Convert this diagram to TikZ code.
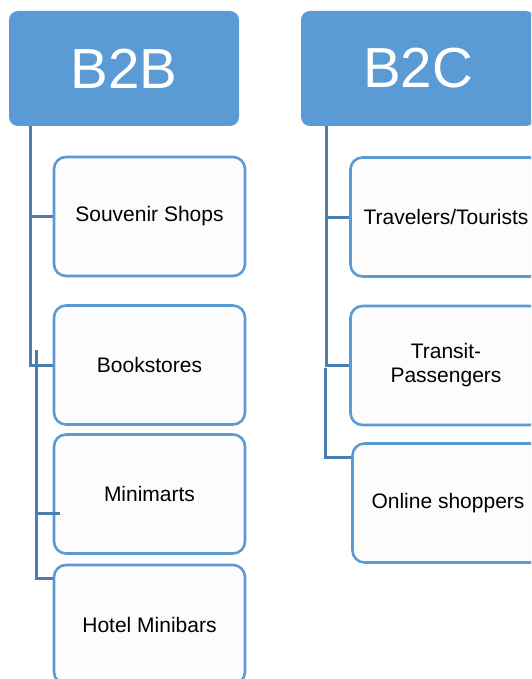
\documentclass[tikz,border=0pt]{standalone}
\usepackage{fontspec}
\setmainfont{Liberation Sans}
\definecolor{hdrblue}{HTML}{5B9BD5}
\definecolor{linkblue}{HTML}{4A7DB0}
\definecolor{boxfill}{HTML}{FCFCFC}
\begin{document}
\begin{tikzpicture}[x=1pt,y=-1pt,
  header/.style={draw=none, fill=hdrblue, rounded corners=9pt,
    minimum width=230pt, minimum height=115pt, text=white,
    font=\fontsize{56.5}{60}\selectfont, inner sep=0pt},
  leaf/.style={draw=hdrblue, line width=2.6pt, fill=boxfill, rounded corners=12pt,
    minimum width=191pt, minimum height=119pt,
    font=\fontsize{21}{24}\selectfont, align=center, inner sep=0pt},
  link/.style={draw=linkblue, line width=3pt}]
\useasboundingbox (0,0) rectangle (531,679);
\clip (0,0) rectangle (531,679);

% column headers
\node[header] (b2b) at (124,68.5) {B2B};
\node[header, minimum width=234pt] (b2c) at (418,68.5) {B2C};

% B2B customers
\node[leaf] (souv)  at (149.5,216.5) {\raisebox{-1.5pt}{Souvenir Shops}};
\node[leaf] (book)  at (149.5,365)   {Bookstores};
\node[leaf] (mini)  at (149.5,494)   {Minimarts};
\node[leaf] (hotel) at (149.5,624.5) {Hotel Minibars};

% B2C customers
\node[leaf] (trav)   at (446,217)   {Travelers/Tourists};
\node[leaf] (trans)  at (446,365.5) {Transit-\\Passengers};
\node[leaf] (online) at (448,503)   {Online shoppers};

% B2B tree lines
\draw[link] ([xshift=22pt]b2b.south west) |- (book.west);
\draw[link] ([xshift=22pt]b2b.south west) |- (souv.west);
\coordinate (b2bsub) at (36,350);
\draw[link] (b2bsub) |- ([yshift=-15pt]hotel.north west);
\draw[link] (b2bsub |- mini.west) ++(0,19) -- ++(24,0);

% B2C tree lines
\draw[link] ([xshift=26pt]b2c.south west) |- (trans.west);
\draw[link] ([xshift=26pt]b2c.south west) |- (trav.west);
\coordinate (b2csub) at (325,368);
\draw[link] (b2csub) |- ([yshift=-15pt]online.north west);
\end{tikzpicture}
\end{document}
